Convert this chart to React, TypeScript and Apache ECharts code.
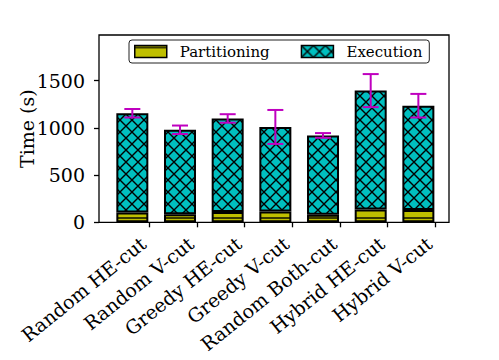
import React, { useEffect, useRef } from "react";
import * as echarts from "echarts";

const categories = [
  "Random HE-cut",
  "Random V-cut",
  "Greedy HE-cut",
  "Greedy V-cut",
  "Random Both-cut",
  "Hybrid HE-cut",
  "Hybrid V-cut",
];
const partitioning = [105, 85, 110, 115, 80, 135, 130];
const execution = [1050, 895, 990, 895, 840, 1260, 1105];
const errors = [45, 45, 45, 180, 25, 175, 125];
const yTicks = [0, 500, 1000, 1500];
const legendNames = ["Partitioning", "Execution"];

const FONT = "DejaVu Serif";

function makePattern(bg: string, kind: "x" | "-") {
  const c = document.createElement("canvas");
  c.width = 12;
  c.height = 12;
  const ctx = c.getContext("2d")!;
  ctx.fillStyle = bg;
  ctx.fillRect(0, 0, 12, 12);
  ctx.strokeStyle = "#000";
  ctx.lineWidth = 1.4;
  ctx.beginPath();
  if (kind === "x") {
    ctx.moveTo(-1, -1);
    ctx.lineTo(13, 13);
    ctx.moveTo(13, -1);
    ctx.lineTo(-1, 13);
  } else {
    ctx.moveTo(0, 2);
    ctx.lineTo(12, 2);
  }
  ctx.stroke();
  return { image: c, repeat: "repeat", imageWidth: 12, imageHeight: 12 } as any;
}

export default function App() {
  const ref = useRef<HTMLDivElement>(null);
  useEffect(() => {
    if (!ref.current) return;
    const chart = echarts.init(ref.current, null, { renderer: "svg" });
    const top = 35;
    const bottom = 360 - 222.3;
    const yMax = 1984;
    const totals = partitioning.map((p, i) => p + execution[i]);
    const yellow = makePattern("#BFBF00", "-");
    const cyan = makePattern("#00BFBF", "x");
    const option: any = {
      animation: false,
      backgroundColor: "#fff",
      textStyle: { fontFamily: FONT },
      grid: [
        {
          left: 99, right: 50, top, bottom,
          show: true, borderColor: "#000", borderWidth: 1.3,
          backgroundColor: "transparent", outerBoundsMode: "none",
        },
        { left: 108.5, right: 56.8, top, bottom, outerBoundsMode: "none" },
        { left: 149.3, right: 63.7, top, bottom, outerBoundsMode: "none" },
      ],
      xAxis: [
        {
          gridIndex: 0, type: "value", min: 0, max: 1,
          show: false,
        },
        {
          gridIndex: 1, type: "category", data: categories,
          boundaryGap: true, show: false,
        },
        {
          gridIndex: 2, type: "category", data: categories,
          boundaryGap: false,
          axisLine: { show: false },
          axisTick: { show: true, length: 5, lineStyle: { color: "#000", width: 1.3 } },
          axisLabel: {
            rotate: 39, interval: 0, margin: 26,
            align: "right", verticalAlign: "bottom",
            fontFamily: FONT, fontSize: 19, color: "#000",
          },
          splitLine: { show: false },
        },
      ],
      yAxis: [
        {
          gridIndex: 0, type: "value", min: 0, max: yMax,
          name: "Time (s)", nameLocation: "middle", nameGap: 63,
          nameMoveOverlap: false,
          nameTextStyle: { fontFamily: FONT, fontSize: 19, color: "#000" },
          axisLine: { show: false },
          axisTick: {
            show: true, length: 5, customValues: yTicks,
            lineStyle: { color: "#000", width: 1.3 },
          },
          axisLabel: {
            customValues: yTicks, margin: 14,
            formatter: (v: number) => String(v),
            fontFamily: FONT, fontSize: 19, color: "#000",
          },
          splitLine: { show: false },
        },
        { gridIndex: 1, type: "value", min: 0, max: yMax, show: false, splitLine: { show: false } },
        { gridIndex: 2, type: "value", min: 0, max: yMax, show: false, splitLine: { show: false } },
      ],
      legend: {
        data: legendNames,
        left: 129, top: 40,
        padding: [4, 7, 4, 5],
        itemWidth: 32, itemHeight: 12, itemGap: 31,
        icon: "rect",
        backgroundColor: "#fff",
        borderColor: "#222", borderWidth: 1, borderRadius: 3,
        textStyle: { fontFamily: FONT, fontSize: 15, color: "#000", padding: [0, 0, 0, 8] },
        itemStyle: { borderColor: "#000", borderWidth: 1.5 },
      },
      series: [
        {
          name: legendNames[0], type: "bar", stack: "t",
          xAxisIndex: 1, yAxisIndex: 1, barWidth: 32,
          data: partitioning,
          itemStyle: { color: yellow, borderColor: "#000", borderWidth: 2 },
        },
        {
          name: legendNames[1], type: "bar", stack: "t",
          xAxisIndex: 1, yAxisIndex: 1, barWidth: 32,
          data: execution,
          itemStyle: { color: cyan, borderColor: "#000", borderWidth: 2 },
        },
        {
          name: "err", type: "custom", xAxisIndex: 1, yAxisIndex: 1, z: 10,
          data: totals.map((t, i) => [i, t, errors[i]]),
          renderItem: (params: any, api: any) => {
            const x = api.value(0);
            const y = api.value(1);
            const e = api.value(2);
            const a = api.coord([x, y + e]);
            const b = api.coord([x, y - e]);
            const hw = 8;
            const style = { stroke: "#BF00BF", lineWidth: 2, fill: null };
            return {
              type: "group",
              children: [
                { type: "line", shape: { x1: a[0], y1: a[1], x2: b[0], y2: b[1] }, style },
                { type: "line", shape: { x1: a[0] - hw, y1: a[1], x2: a[0] + hw, y2: a[1] }, style },
                { type: "line", shape: { x1: b[0] - hw, y1: b[1], x2: b[0] + hw, y2: b[1] }, style },
              ],
            };
          },
        },
      ],
    };
    chart.setOption(option);
    return () => chart.dispose();
  }, []);
  return (
    <div
      ref={ref}
      style={{ position: "fixed", left: 0, top: 0, width: 499, height: 360 }}
    />
  );
}
